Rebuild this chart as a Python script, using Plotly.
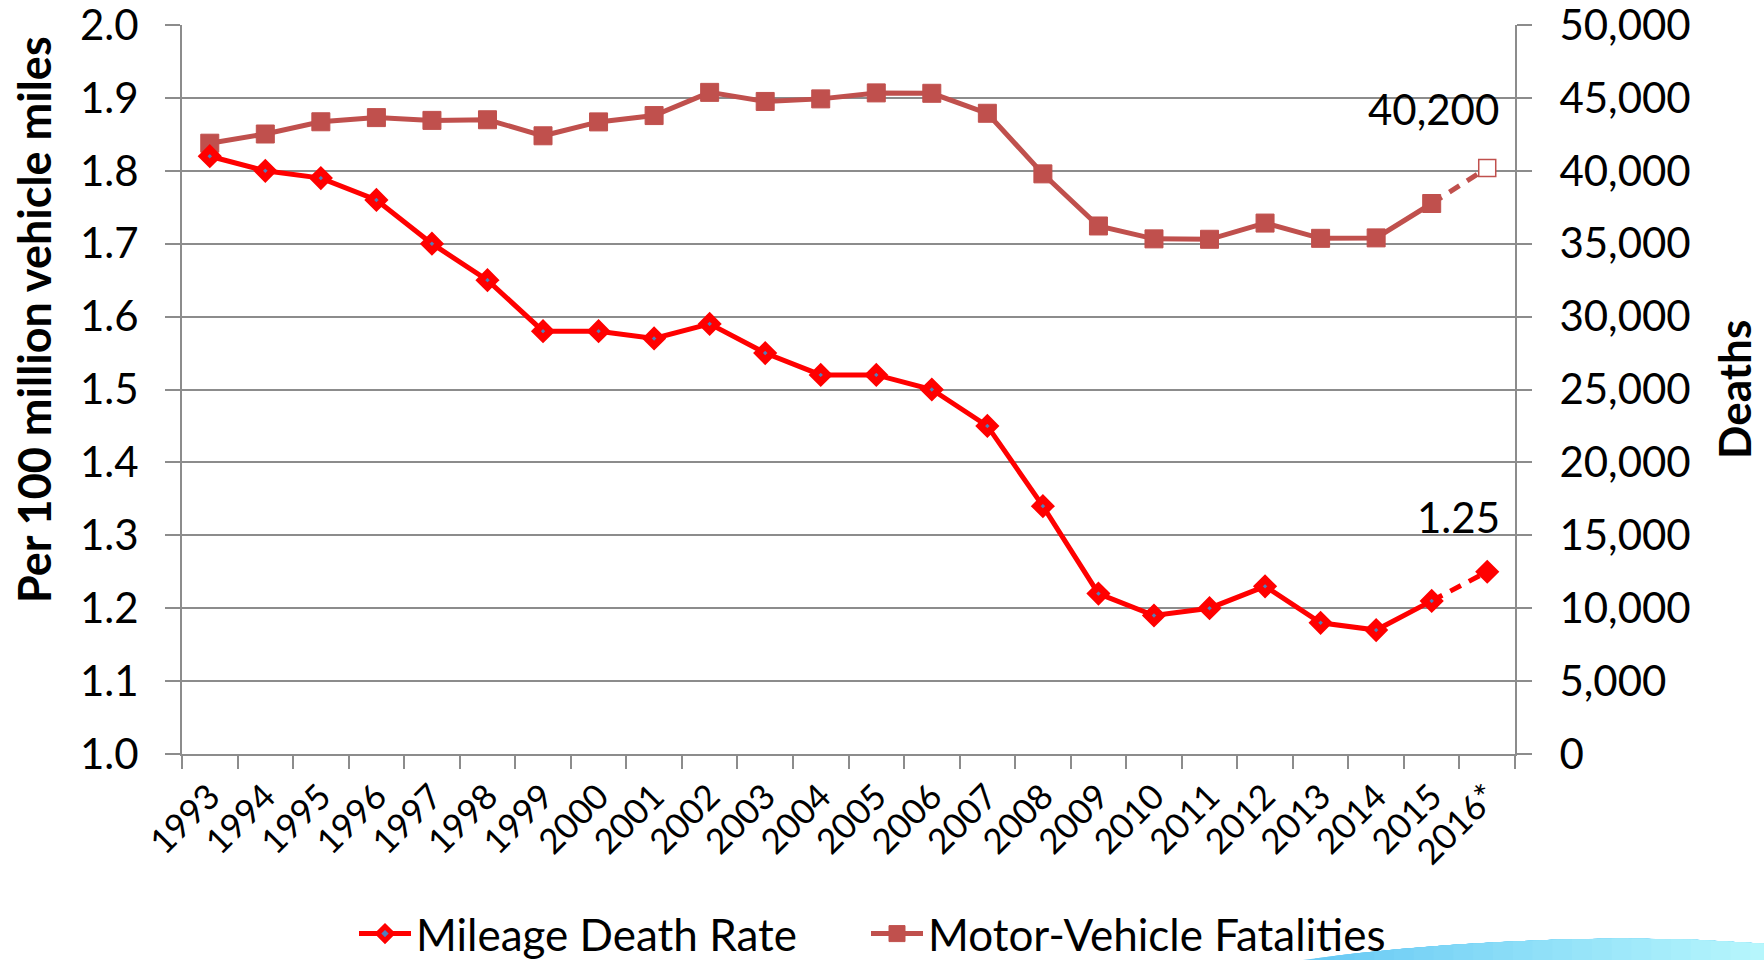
import plotly.graph_objects as go

years = ["1993", "1994", "1995", "1996", "1997", "1998", "1999", "2000", "2001", "2002",
         "2003", "2004", "2005", "2006", "2007", "2008", "2009", "2010", "2011", "2012",
         "2013", "2014", "2015", "2016*"]
death_rate = [1.82, 1.80, 1.79, 1.76, 1.70, 1.65, 1.58, 1.58, 1.57, 1.59,
              1.55, 1.52, 1.52, 1.50, 1.45, 1.34, 1.22, 1.19, 1.20, 1.23,
              1.18, 1.17, 1.21, 1.25]
fatalities = [41893, 42524, 43363, 43649, 43458, 43501, 42401, 43354, 43788, 45380,
              44757, 44933, 45343, 45316, 43945, 39790, 36216, 35332, 35303, 36415,
              35369, 35398, 37757, 40200]
rate_ticks = [1.0, 1.1, 1.2, 1.3, 1.4, 1.5, 1.6, 1.7, 1.8, 1.9, 2.0]
death_ticks = [0, 5000, 10000, 15000, 20000, 25000, 30000, 35000, 40000, 45000, 50000]

FONT = "Lato"
RED = "#FF0000"
BLUE = "#4F81BD"
BRICK = "#C0504D"
GRID = "#8C8C8C"

W, H = 1764, 960
L, R, T, B = 182, 1515, 25, 754


def px(x):
    return (x - L) / (R - L)


def py(y):
    return (B - y) / (B - T)


fig = go.Figure()

# Fatalities (primary y axis on the right)
fig.add_trace(go.Scatter(
    x=years[-2:], y=fatalities[-2:], mode="lines", yaxis="y",
    line=dict(color=BRICK, width=5, dash="12px,9px"), showlegend=False, hoverinfo="skip"))
fig.add_trace(go.Scatter(
    x=years[:-1], y=fatalities[:-1], mode="lines+markers", yaxis="y",
    name="Motor-Vehicle Fatalities", legend="legend2",
    line=dict(color=BRICK, width=5),
    marker=dict(symbol="square", size=18, color=BRICK, line=dict(color=BRICK, width=1))))
fig.add_trace(go.Scatter(
    x=years[-1:], y=fatalities[-1:], mode="markers", yaxis="y", showlegend=False,
    marker=dict(symbol="square", size=17, color="white", line=dict(color=BRICK, width=1.5))))

# Mileage death rate (secondary axis on the left, drawn on top)
fig.add_trace(go.Scatter(
    x=years[-2:], y=death_rate[-2:], mode="lines", yaxis="y2",
    line=dict(color=RED, width=5, dash="12px,9px"), showlegend=False, hoverinfo="skip"))
fig.add_trace(go.Scatter(
    x=years[:-1], y=death_rate[:-1], mode="lines+markers", yaxis="y2",
    name="Mileage Death Rate", legend="legend",
    line=dict(color=RED, width=5),
    marker=dict(symbol="diamond", size=11, color=BLUE, line=dict(color=RED, width=7))))
fig.add_trace(go.Scatter(
    x=years[-1:], y=death_rate[-1:], mode="markers", yaxis="y2", showlegend=False,
    marker=dict(symbol="diamond", size=11, color=RED, line=dict(color=RED, width=7))))

axis_common = dict(
    showline=True, linecolor=GRID, linewidth=2,
    ticks="outside", ticklen=15, tickcolor=GRID, tickwidth=2,
    tickfont=dict(family=FONT, size=42, color="black"),
    zeroline=False, automargin=False, ticklabeloverflow="allow",
)

legend_common = dict(
    orientation="h", xanchor="left", y=py(934), yanchor="middle",
    font=dict(family=FONT, size=44, color="black"),
    itemwidth=52, bgcolor="rgba(0,0,0,0)",
)

fig.update_layout(
    width=W, height=H,
    margin=dict(l=L, r=W - R, t=T, b=H - B, autoexpand=False),
    paper_bgcolor="white", plot_bgcolor="white",
    font=dict(family=FONT, color="black"),
    hovermode=False,
    xaxis=dict(
        type="category", categoryorder="array", categoryarray=years,
        range=[-0.5, len(years) - 0.5], automargin=False,
        showline=True, linecolor=GRID, linewidth=2,
        ticks="outside", ticklen=13, tickcolor=GRID, tickwidth=2,
        tickson="boundaries", showgrid=False, ticklabelstandoff=6,
        ticklabeloverflow="allow",
        tickangle=-45, tickfont=dict(family=FONT, size=35, color="black"),
    ),
    yaxis=dict(
        side="right", range=[0, 50000], tickvals=death_ticks,
        tickformat=",d", showgrid=True, gridcolor=GRID, gridwidth=2,
        ticklabelstandoff=19, **axis_common),
    yaxis2=dict(
        side="left", overlaying="y", range=[1.0, 2.0], tickvals=rate_ticks,
        tickformat=".1f", showgrid=False,
        ticklabelstandoff=18, **axis_common),
    legend=dict(x=px(354), **legend_common),
    legend2=dict(x=px(866), **legend_common),
    annotations=[
        dict(text="<b>Per 100 million vehicle miles</b>", textangle=-90,
             xref="paper", yref="paper", x=px(34), y=py(320),
             xanchor="center", yanchor="middle", showarrow=False,
             font=dict(family=FONT, size=45, color="black")),
        dict(text="<b>Deaths</b>", textangle=-90,
             xref="paper", yref="paper", x=px(1734), y=py(390),
             xanchor="center", yanchor="middle", showarrow=False,
             font=dict(family=FONT, size=44, color="black")),
        dict(text="40,200", xref="x", yref="y", x=years[-1], y=fatalities[-1],
             xanchor="right", yanchor="bottom", xshift=14, yshift=32, showarrow=False,
             font=dict(family=FONT, size=42, color="black")),
        dict(text="1.25", xref="x", yref="y2", x=years[-1], y=death_rate[-1],
             xanchor="right", yanchor="bottom", xshift=15, yshift=28, showarrow=False,
             font=dict(family=FONT, size=42, color="black")),
    ],
)

# Decorative light-blue swoosh at bottom right (horizontal gradient as strips)
edge_pts = [(1295, 961), (1350, 954), (1400, 949), (1450, 945), (1500, 942),
            (1560, 939.5), (1620, 938.5), (1690, 939.5), (1770, 944)]


def top_edge(x):
    for (x0, y0), (x1, y1) in zip(edge_pts[:-1], edge_pts[1:]):
        if x0 <= x <= x1:
            return y0 + (y1 - y0) * (x - x0) / (x1 - x0)
    return edge_pts[-1][1] if x > edge_pts[-1][0] else edge_pts[0][1]


x_start, x_end = 1295.0, 1770.0
c0 = (102, 200, 244)
c1 = (182, 246, 252)
n = 24
shapes = []
for i in range(n):
    xi = x_start + (x_end - x_start) * i / n
    f = i / (n - 1)
    col = "rgb(%d,%d,%d)" % tuple(round(c0[k] + (c1[k] - c0[k]) * f) for k in range(3))
    steps = 40
    path = "M %f,%f " % (px(xi), py(975))
    for j in range(steps + 1):
        xx = xi + (x_end - xi) * j / steps
        path += "L %f,%f " % (px(xx), py(top_edge(xx)))
    path += "L %f,%f Z" % (px(x_end), py(975))
    shapes.append(dict(type="path", path=path, xref="paper", yref="paper",
                       fillcolor=col, line=dict(width=0), layer="below"))
fig.update_layout(shapes=shapes)

fig.write_html(
    "out.html",
    config={"displayModeBar": False},
    post_script="document.body.style.margin='0';document.body.style.padding='0';"
                "document.body.style.overflow='hidden';",
)
